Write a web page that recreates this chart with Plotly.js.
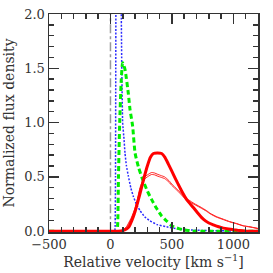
<!DOCTYPE html>
<html>
<head>
<meta charset="utf-8">
<script src="https://cdn.plot.ly/plotly-3.0.1.min.js"></script>
<style>html,body{margin:0;padding:0;background:#fff;}#plot{width:273px;height:273px;}</style>
</head>
<body>
<div id="plot"></div>
<script>
// Reference vertical line (v = 0)
const refV = [0, 0];
const refY = [0, 2.1];

// Blue dotted profile
const blueV = [-500, 34, 38, 41, 43, 45, 50, 70, 85, 88, 92, 99, 110, 118, 130, 145, 165, 186, 210, 240, 280, 321, 380, 457, 550, 700, 900, 1200];
const blueY = [0, 0, 0.05, 0.5, 1.5, 2.5, 3.5, 4.0, 3.0, 2.0, 1.5, 1.0, 0.85, 0.72, 0.6, 0.51, 0.4, 0.32, 0.25, 0.19, 0.13, 0.095, 0.06, 0.04, 0.02, 0.008, 0.003, 0];

// Green dashed profile
const greenV = [-500, 50, 58, 65, 75, 88, 99, 118, 145, 159, 180, 200, 230, 267, 300, 335, 375, 416, 460, 498, 550, 600, 700, 1200];
const greenY = [0, 0, 0.05, 0.5, 1.0, 1.4, 1.55, 1.49, 1.27, 1.12, 0.97, 0.72, 0.58, 0.46, 0.37, 0.29, 0.21, 0.14, 0.09, 0.05, 0.025, 0.01, 0, 0];

// Red thick profile
const redV = [-500, 60, 100, 130, 150, 175, 200, 225, 250, 275, 300, 325, 350, 380, 416, 443, 470, 498, 525, 552, 579, 620, 674, 715, 755, 800, 837, 880, 918, 960, 1000, 1050, 1100, 1200];
const redY = [0, 0, 0.005, 0.02, 0.04, 0.1, 0.18, 0.28, 0.39, 0.5, 0.6, 0.68, 0.715, 0.72, 0.715, 0.68, 0.62, 0.555, 0.49, 0.43, 0.37, 0.29, 0.217, 0.16, 0.11, 0.075, 0.058, 0.04, 0.028, 0.02, 0.014, 0.005, 0, 0];

// Red thin profiles (pair)
const thinV = [-500, 60, 100, 130, 145, 172, 199, 220, 240, 267, 290, 310, 335, 360, 380, 416, 440, 457, 480, 498, 525, 552, 580, 606, 640, 680, 728, 780, 810, 860, 918, 970, 1027, 1080, 1135, 1200];
const thinY1 = [0, 0, 0.01, 0.04, 0.07, 0.13, 0.21, 0.3, 0.4, 0.48, 0.51, 0.525, 0.54, 0.535, 0.525, 0.51, 0.5, 0.485, 0.46, 0.435, 0.405, 0.375, 0.34, 0.31, 0.285, 0.255, 0.225, 0.19, 0.165, 0.135, 0.11, 0.088, 0.07, 0.05, 0.04, 0.025];
const thinY2 = [0, 0, 0.008, 0.035, 0.062, 0.12, 0.195, 0.285, 0.385, 0.462, 0.492, 0.507, 0.522, 0.518, 0.508, 0.494, 0.484, 0.47, 0.446, 0.422, 0.393, 0.364, 0.33, 0.3, 0.276, 0.247, 0.218, 0.184, 0.16, 0.13, 0.106, 0.085, 0.067, 0.048, 0.038, 0.023];

const xTickVals = [-500, 0, 500, 1000];
const yTickVals = [0, 0.5, 1.0, 1.5, 2.0];
const yTickText = ['0.0', '0.5', '1.0', '1.5', '2.0'];

const traces = [
  {x: refV, y: refY, mode: 'lines', line: {color: '#999999', width: 1.5, dash: 'dashdot'}, hoverinfo: 'skip'},
  {x: blueV, y: blueY, mode: 'lines', line: {color: '#2b2bff', width: 1.5, dash: '2px,1.5px', shape: 'spline', smoothing: 0.3}},
  {x: greenV, y: greenY, mode: 'lines', line: {color: '#00ee00', width: 3, dash: '5px,3px', shape: 'spline', smoothing: 0.5}},
  {x: thinV, y: thinY1, mode: 'lines', line: {color: '#ff2020', width: 1, shape: 'spline', smoothing: 0.5}},
  {x: thinV, y: thinY2, mode: 'lines', line: {color: '#ff2020', width: 1, shape: 'spline', smoothing: 0.5}},
  {x: redV, y: redY, mode: 'lines', line: {color: '#ff0000', width: 3, shape: 'spline', smoothing: 0.5}}
];

const font = {family: 'DejaVu Serif, serif', size: 13, color: '#333333'};

const layout = {
  width: 273, height: 273,
  margin: {l: 49, r: 15, t: 14, b: 41},
  paper_bgcolor: '#ffffff', plot_bgcolor: '#ffffff',
  showlegend: false,
  font: font,
  xaxis: {
    range: [-500, 1200],
    tickvals: xTickVals,
    ticks: 'inside', ticklen: 10, tickwidth: 1.5, tickcolor: '#333333',
    showline: true, linecolor: '#333333', linewidth: 1.5, mirror: 'ticks',
    showgrid: false, zeroline: false,
    minor: {dtick: 100, tick0: 0, ticks: 'inside', ticklen: 5, tickwidth: 1.5, tickcolor: '#333333', showgrid: false},
    tickfont: {family: 'DejaVu Serif, serif', size: 13, color: '#333333'},
    title: {text: 'Relative velocity [km s<sup>−1</sup>]', font: {family: 'DejaVu Serif, serif', size: 14, color: '#333333'}, standoff: 6}
  },
  yaxis: {
    range: [-0.008, 2.0],
    tickvals: yTickVals, ticktext: yTickText,
    ticks: 'inside', ticklen: 10, tickwidth: 1.5, tickcolor: '#333333',
    showline: true, linecolor: '#333333', linewidth: 1.5, mirror: 'ticks',
    showgrid: false, zeroline: false,
    minor: {dtick: 0.1, tick0: 0, ticks: 'inside', ticklen: 5, tickwidth: 1.5, tickcolor: '#333333', showgrid: false},
    tickfont: {family: 'DejaVu Serif, serif', size: 13, color: '#333333'},
    title: {text: 'Normalized flux density', font: {family: 'DejaVu Serif, serif', size: 14, color: '#333333'}, standoff: 6}
  }
};

Plotly.newPlot('plot', traces, layout, {displayModeBar: false, staticPlot: true});
</script>
</body>
</html>
